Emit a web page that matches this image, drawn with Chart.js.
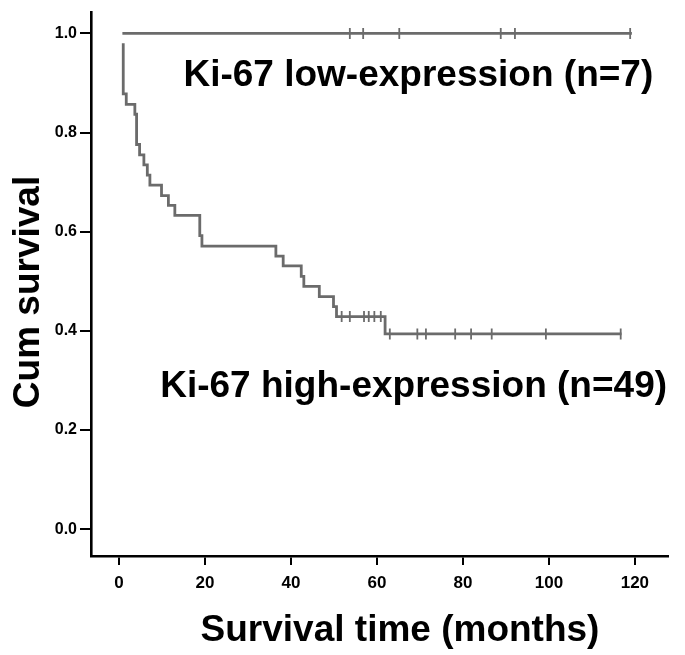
<!DOCTYPE html>
<html>
<head>
<meta charset="utf-8">
<script src="https://cdn.jsdelivr.net/npm/chart.js@4.4.1/dist/chart.umd.min.js"></script>
<style>
  html, body { margin: 0; padding: 0; background: #fff; }
  #wrap { width: 685px; height: 655px; }
</style>
</head>
<body>
<div id="wrap"><canvas id="km"></canvas></div>
<script>
// Ki-67 low-expression group (n=7)
const lowTimes = [0.8, 119.3];
const lowSurv = [1.0, 1.0];
const lowCensorTimes = [53.7, 56.8, 65.2, 88.8, 92.1, 118.9];

// Ki-67 high-expression group (n=49), step points (time, cum survival)
const highTimes = [1.0, 1.0, 1.7, 3.7, 4.1, 4.8, 5.8, 6.6, 7.2, 9.9, 11.5, 13.0, 18.8, 19.3,
                   36.5, 38.2, 42.4, 43.0, 46.6, 49.9, 50.6, 61.9, 116.9];
const highSurv = [0.980, 0.878, 0.857, 0.837, 0.776, 0.755, 0.735, 0.714, 0.694, 0.673, 0.653, 0.633, 0.592, 0.571,
                  0.551, 0.531, 0.510, 0.490, 0.469, 0.449, 0.429, 0.394, 0.394];
const highCensorTimes = [51.8, 53.7, 57.0, 58.1, 59.4, 60.9, 63.0, 69.4, 71.4, 78.2, 81.9, 86.7, 99.3, 116.7];

const xTicks = [0, 20, 40, 60, 80, 100, 120];
const yTicks = [0.0, 0.2, 0.4, 0.6, 0.8, 1.0];

const lineColor = '#6b6b6b';
const fontFam = '"Liberation Sans", Arial, sans-serif';

// survival value of a step curve at time t (for placing censor marks)
function survAt(times, surv, t) {
    let s = surv[0];
    for (let i = 0; i < times.length; i++) {
        if (times[i] <= t) s = surv[i];
    }
    return s;
}

const toPoints = (xs, ys) => xs.map((x, i) => ({ x: x, y: ys[i] }));
const censorPoints = (ct, times, surv) => ct.map(t => ({ x: t, y: survAt(times, surv, t) }));

// group labels drawn inside the plot
const groupLabels = [
    { text: 'Ki-67 low-expression (n=7)', x: 15.0, y: 0.893 },
    { text: 'Ki-67 high-expression (n=49)', x: 9.6, y: 0.267 }
];

const labelPlugin = {
    id: 'groupLabels',
    afterDatasetsDraw(chart) {
        const ctx = chart.ctx;
        const xs = chart.scales.x, ys = chart.scales.y;
        ctx.save();
        ctx.fillStyle = '#000';
        ctx.font = 'bold 37px ' + fontFam;
        ctx.textAlign = 'left';
        ctx.textBaseline = 'alphabetic';
        groupLabels.forEach(l => {
            ctx.fillText(l.text, xs.getPixelForValue(l.x), ys.getPixelForValue(l.y));
        });

        // axis titles
        ctx.textAlign = 'center';
        ctx.textBaseline = 'middle';
        ctx.fillText('Survival time (months)', 400, 631);
        ctx.translate(29, 292);
        ctx.rotate(-Math.PI / 2);
        ctx.fillText('Cum survival', 0, 0);
        ctx.restore();
    }
};

const censorStyle = {
    type: 'scatter',
    showLine: false,
    pointStyle: 'line',
    rotation: 90,
    radius: 5.5,
    hoverRadius: 5.5,
    borderWidth: 1.8,
    borderColor: lineColor,
    backgroundColor: lineColor
};

new Chart(document.getElementById('km'), {
    type: 'line',
    data: {
        datasets: [
            {
                data: toPoints(lowTimes, lowSurv),
                stepped: 'before',
                borderColor: lineColor,
                borderWidth: 2.8,
                pointRadius: 0,
                fill: false
            },
            {
                data: toPoints(highTimes, highSurv),
                stepped: 'before',
                borderColor: lineColor,
                borderWidth: 2.8,
                pointRadius: 0,
                fill: false
            },
            Object.assign({ data: censorPoints(lowCensorTimes, lowTimes, lowSurv) }, censorStyle),
            Object.assign({ data: censorPoints(highCensorTimes, highTimes, highSurv) }, censorStyle)
        ]
    },
    options: {
        responsive: true,
        maintainAspectRatio: false,
        animation: false,
        events: [],
        layout: { padding: { top: 10, right: 17, left: 0, bottom: 0 } },
        plugins: {
            legend: { display: false },
            tooltip: { enabled: false }
        },
        scales: {
            x: {
                type: 'linear',
                min: -6.5,
                max: 127.7,
                afterBuildTicks: s => { s.ticks = xTicks.map(v => ({ value: v })); },
                afterFit: s => { s.height = 99; },
                border: { display: true, color: '#000', width: 2.6 },
                grid: { display: true, drawOnChartArea: false, drawTicks: true, tickLength: 9, color: '#000', lineWidth: 2 },
                ticks: {
                    color: '#000',
                    padding: 8,
                    maxRotation: 0,
                    font: { family: fontFam, size: 17, weight: 'bold' },
                    callback: v => String(v)
                }
            },
            y: {
                type: 'linear',
                min: -0.054,
                max: 1.042,
                afterBuildTicks: s => { s.ticks = yTicks.map(v => ({ value: v })); },
                afterFit: s => { s.width = 91; },
                border: { display: true, color: '#000', width: 2.6 },
                grid: { display: true, drawOnChartArea: false, drawTicks: true, tickLength: 11, color: '#000', lineWidth: 2 },
                ticks: {
                    color: '#000',
                    padding: 3,
                    font: { family: fontFam, size: 16, weight: 'bold' },
                    callback: v => v.toFixed(1)
                }
            }
        }
    },
    plugins: [labelPlugin]
});
</script>
</body>
</html>
